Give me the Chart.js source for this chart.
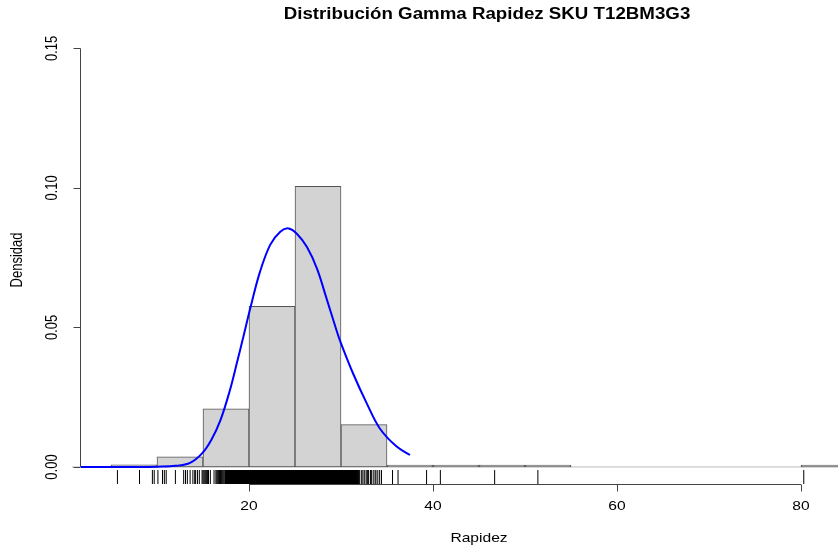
<!DOCTYPE html>
<html>
<head>
<meta charset="utf-8">
<script src="https://cdn.jsdelivr.net/npm/chart.js@4/dist/chart.umd.min.js"></script>
<style>
  html, body { margin: 0; padding: 0; background: #fff; }
  #wrap { width: 838px; height: 549px; }
</style>
</head>
<body>
<div id="wrap"><canvas id="c" width="838" height="549"></canvas></div>
<script>
// histograma (densidad por intervalo de 5)
const binStarts = [5, 10, 15, 20, 25, 30, 35, 40, 45, 50, 55, 60, 65, 70, 75, 80];
const density   = [0.0008, 0.0036, 0.0208, 0.0576, 0.1006, 0.0152, 0.0006, 0.0002, 0.0002, 0.0002, 0, 0, 0, 0, 0, 0.0002];

// curva gamma ajustada
const curveX = [0, 4, 8, 10, 12, 13.6, 14.9, 15.9, 16.9, 17.9, 18.7, 19.3, 20.2, 21.2, 22.3, 23.4, 24.3, 25.2, 26.3, 27.4, 28.4, 29.5, 30.0, 31.3, 32.8, 34.2, 36.05, 37.5];
const curveY = [0, 0, 0, 0.0001, 0.0004, 0.0015, 0.0049, 0.0097, 0.0168, 0.0272, 0.0375, 0.0455, 0.0577, 0.0700, 0.0796, 0.0843, 0.0855, 0.0836, 0.0788, 0.0710, 0.0607, 0.0491, 0.0443, 0.0336, 0.0228, 0.0139, 0.0073, 0.0043];

// rug: observaciones sueltas y banda densa
const rugSparse = [5.7, 8.1, 9.5, 9.7, 10.1, 10.6, 10.8, 11.0, 12.0, 12.9, 13.1, 13.3, 13.6, 13.9, 14.1, 14.2, 14.4, 14.6,
  14.9, 15.0, 15.1, 15.2, 15.3, 15.4, 15.5, 15.6, 15.8, 16.2, 16.4, 16.5, 16.6, 16.7, 16.8, 16.9, 17.0, 17.1, 17.2, 17.3, 17.4,
  31.8, 31.9, 32.0, 32.2, 32.3, 32.5, 32.6, 32.8, 32.9, 33.0, 33.2, 33.3, 33.5, 33.7, 33.8, 34.0, 34.2, 34.4,
  35.6, 36.2, 39.3, 40.8, 46.7, 51.4, 80.3];
const rugDense = [17.5, 17.7, 17.9, 18.1, 18.3, 18.5, 18.7, 18.9, 19.1, 19.3, 19.5, 19.7, 19.9, 20.1, 20.3, 20.5, 20.7, 20.9,
  21.1, 21.3, 21.5, 21.7, 21.9, 22.1, 22.3, 22.5, 22.7, 22.9, 23.1, 23.3, 23.5, 23.7, 23.9, 24.1, 24.3, 24.5, 24.7, 24.9,
  25.1, 25.3, 25.5, 25.7, 25.9, 26.1, 26.3, 26.5, 26.7, 26.9, 27.1, 27.3, 27.5, 27.7, 27.9, 28.1, 28.3, 28.5, 28.7, 28.9,
  29.1, 29.3, 29.5, 29.7, 29.9, 30.1, 30.3, 30.5, 30.7, 30.9, 31.1, 31.3, 31.5, 31.7];

const xTicks = [20, 40, 60, 80];
const yTicks = [0, 0.05, 0.10, 0.15];
const yTickLabels = ['0.00', '0.05', '0.10', '0.15'];

const FONT = '"Liberation Sans", Arial, sans-serif';
const STRETCH = 1.2; // la imagen original está estirada en horizontal

function text(ctx, str, x, y, rotated) {
  ctx.save();
  ctx.translate(x, y);
  ctx.scale(STRETCH, 1);
  if (rotated) ctx.rotate(-Math.PI / 2);
  ctx.fillText(str, 0, 0);
  ctx.restore();
}

// ejes estilo R, rug y títulos
const rAxes = {
  id: 'rAxes',
  beforeDatasetsDraw(chart) {
    const { ctx, chartArea, scales: { y } } = chart;
    const y0 = y.getPixelForValue(0);
    ctx.save();
    ctx.strokeStyle = '#bbbbbb';
    ctx.lineWidth = 1;
    ctx.beginPath();
    ctx.moveTo(72, y0);
    ctx.lineTo(chartArea.right, y0);
    ctx.stroke();
    ctx.restore();
  },
  afterDraw(chart) {
    const { ctx, chartArea, scales: { x, y } } = chart;
    const bottom = chartArea.bottom;
    ctx.save();

    // rug
    ctx.strokeStyle = '#000';
    ctx.lineWidth = 1;
    ctx.beginPath();
    rugSparse.forEach(v => {
      const px = x.getPixelForValue(v);
      ctx.moveTo(px, bottom - 14);
      ctx.lineTo(px, bottom);
    });
    ctx.stroke();
    ctx.lineWidth = 2;
    ctx.beginPath();
    rugDense.forEach(v => {
      const px = x.getPixelForValue(v);
      ctx.moveTo(px, bottom - 14);
      ctx.lineTo(px, bottom);
    });
    ctx.stroke();

    // eje x
    ctx.strokeStyle = '#444';
    ctx.lineWidth = 1;
    const ax = bottom + 0.5;
    ctx.beginPath();
    ctx.moveTo(x.getPixelForValue(xTicks[0]), ax);
    ctx.lineTo(x.getPixelForValue(xTicks[xTicks.length - 1]), ax);
    xTicks.forEach(v => {
      const px = Math.round(x.getPixelForValue(v)) + 0.5;
      ctx.moveTo(px, ax);
      ctx.lineTo(px, ax + 7);
    });
    ctx.stroke();
    ctx.fillStyle = '#000';
    ctx.font = `13px ${FONT}`;
    ctx.textAlign = 'center';
    ctx.textBaseline = 'middle';
    xTicks.forEach(v => text(ctx, String(v), x.getPixelForValue(v), 506));

    // eje y
    const ay = chartArea.left - 0.5;
    ctx.beginPath();
    ctx.moveTo(ay, y.getPixelForValue(yTicks[0]));
    ctx.lineTo(ay, y.getPixelForValue(yTicks[yTicks.length - 1]));
    yTicks.forEach(v => {
      const py = Math.round(y.getPixelForValue(v)) + 0.5;
      ctx.moveTo(ay, py);
      ctx.lineTo(ay - 7, py);
    });
    ctx.stroke();
    yTicks.forEach((v, i) => text(ctx, yTickLabels[i], 53, y.getPixelForValue(v), true));

    // títulos
    text(ctx, 'Rapidez', 479, 538);
    text(ctx, 'Densidad', 18, 260, true);
    ctx.font = `bold 15.6px ${FONT}`;
    text(ctx, 'Distribución Gamma Rapidez SKU T12BM3G3', 487, 15);

    ctx.restore();
  }
};

new Chart(document.getElementById('c'), {
  type: 'bar',
  data: {
    datasets: [
      {
        type: 'line',
        label: 'Gamma',
        data: curveX.map((v, i) => ({ x: v, y: curveY[i] })),
        borderColor: '#0000ff',
        borderWidth: 2,
        pointRadius: 0,
        tension: 0.35,
        fill: false,
        order: 0,
      },
      {
        label: 'Rapidez',
        // los intervalos vacíos sólo dejan la línea base
        data: binStarts.map((s, i) => ({ x: s + 2.5, y: density[i] })).filter(d => d.y > 0),
        backgroundColor: '#d3d3d3',
        borderColor: '#555555',
        borderWidth: 1,
        borderSkipped: false,
        minBarLength: 2,
        barPercentage: 1,
        categoryPercentage: 1,
        order: 1,
      },
    ],
  },
  options: {
    responsive: false,
    animation: false,
    layout: { padding: { left: 81, top: 32, right: 0, bottom: 65 } },
    plugins: { legend: { display: false }, tooltip: { enabled: false }, title: { display: false } },
    scales: {
      x: { type: 'linear', min: 1.74, max: 84.02, offset: false, display: false },
      y: { type: 'linear', min: -0.0061, max: 0.1559, display: false },
    },
  },
  plugins: [rAxes],
});
</script>
</body>
</html>
